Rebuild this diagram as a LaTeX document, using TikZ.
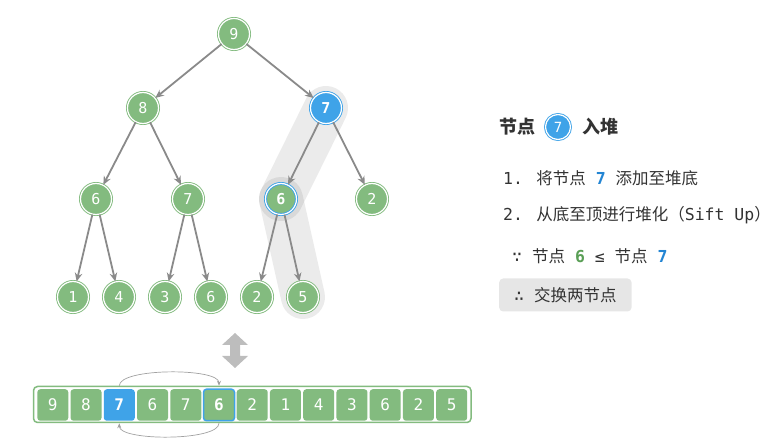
\documentclass[tikz,border=0pt]{standalone}
\usepackage{fontspec}
\setmainfont{DejaVu Sans Mono}
\newfontfamily\cjk{Noto Sans CJK SC}
\usetikzlibrary{arrows.meta}
\definecolor{hgreen}{HTML}{83BB7F}
\definecolor{hblue}{HTML}{3FA3E8}
\definecolor{tblue}{HTML}{2385D3}
\definecolor{tgreen}{HTML}{5A9F56}
\definecolor{edgegray}{HTML}{8A8A8A}
\definecolor{txt}{HTML}{333333}
\definecolor{boxgray}{HTML}{E6E6E6}
\definecolor{arrgray}{HTML}{BDBDBD}
\tikzset{
  tnode/.style={circle, minimum size=31pt, inner sep=0pt, fill=hgreen, draw=hgreen,
    double=white, double distance=1.2pt, line width=0.9pt, text=white,
    font=\fontsize{15}{15}\selectfont},
  tblue/.style={tnode, fill=hblue, draw=hblue, font=\fontsize{15}{15}\selectfont\bfseries},
  tring/.style={tnode, draw=hblue, font=\fontsize{15}{15}\selectfont\bfseries},
  edge/.style={draw=edgegray, line width=1.8pt, -{Stealth[length=8.5pt,width=7.5pt]}},
  band/.style={line width=44pt, line cap=round, draw=black, draw opacity=0.08},
  cell/.style={rectangle, rounded corners=3pt, minimum width=31pt, minimum height=31.5pt,
    inner sep=0pt, fill=hgreen, text=white, font=\fontsize{16}{16}\selectfont},
  cellblue/.style={cell, fill=hblue, font=\fontsize{16}{16}\selectfont\bfseries},
  cellring/.style={cell, draw=hblue, line width=1.5pt, font=\fontsize{16}{16}\selectfont\bfseries},
  swaparc/.style={draw=edgegray!80, line width=0.7pt, -{Stealth[length=5pt,width=4pt]}},
  txtline/.style={anchor=west, inner sep=0pt, text=txt, font=\fontsize{16.5}{16.5}\selectfont},
}
\begin{document}
\begin{tikzpicture}[x=1pt,y=-1pt]
\useasboundingbox (0,0) rectangle (774,443);
% positions
\coordinate (pr) at (234,34);
\coordinate (pl1) at (143,108);
\coordinate (pr1) at (326,108);
\coordinate (pll) at (96,199);
\coordinate (plr) at (188,199);
\coordinate (prl) at (281,199);
\coordinate (prr) at (372,199);
\coordinate (pq1) at (73,297);
\coordinate (pq2) at (119,297);
\coordinate (pq3) at (165,297);
\coordinate (pq4) at (211,297);
\coordinate (pq5) at (257,297);
\coordinate (pq6) at (303,297);
% highlight band
\draw[band] (pr1) -- (prl);
\draw[band] (prl) -- (pq6);
% tree nodes
\node[tnode] (r) at (pr) {9};
\node[tnode] (l1) at (pl1) {8};
\node[tblue] (r1) at (pr1) {7};
\node[tnode] (ll) at (pll) {6};
\node[tnode] (lr) at (plr) {7};
\node[tring] (rl) at (prl) {6};
\node[tnode] (rr) at (prr) {2};
\node[tnode] (q1) at (pq1) {1};
\node[tnode] (q2) at (pq2) {4};
\node[tnode] (q3) at (pq3) {3};
\node[tnode] (q4) at (pq4) {6};
\node[tnode] (q5) at (pq5) {2};
\node[tnode] (q6) at (pq6) {5};
% edges
\draw[edge] (r) -- (l1);
\draw[edge] (r) -- (r1);
\draw[edge] (l1) -- (ll);
\draw[edge] (l1) -- (lr);
\draw[edge] (r1) -- (rl);
\draw[edge] (r1) -- (rr);
\draw[edge] (ll) -- (q1);
\draw[edge] (ll) -- (q2);
\draw[edge] (lr) -- (q3);
\draw[edge] (lr) -- (q4);
\draw[edge] (rl) -- (q5);
\draw[edge] (rl) -- (q6);
% double arrow
\fill[arrgray] (235,333) -- (248,345) -- (240,345) -- (240,356) -- (248,356) -- (235,368)
  -- (222,356) -- (230,356) -- (230,345) -- (222,345) -- cycle;
% array
\node[draw=hgreen, line width=1.5pt, fill=white, rounded corners=4pt, minimum width=437.5pt,
  minimum height=36pt, inner sep=0pt] (arr) at (252.25,404.5) {};
\foreach \v/\s [count=\i from 0] in {9/cell,8/cell,7/cellblue,6/cell,7/cell,6/cellring,2/cell,1/cell,4/cell,3/cell,6/cell,2/cell,5/cell}
  \node[\s] (c\i) at ({52.8+33.24*\i},405) {\v};
\coordinate (a2) at (c2.north |- arr.north);
\coordinate (a5) at (c5.north |- arr.north);
\coordinate (b2) at (c2.south |- arr.south);
\coordinate (b5) at (c5.south |- arr.south);
\draw[swaparc] (a2) .. controls ([yshift=18pt]a2) and ([yshift=18pt]a5) .. (a5);
\draw[swaparc] (b5) .. controls ([yshift=-18pt]b5) and ([yshift=-18pt]b2) .. (b2);
% right text
\node[txtline, font=\fontsize{18}{18}\selectfont] (ti1) at (499,127) {\cjk\bfseries 节点};
\node[tblue, minimum size=25pt, font=\fontsize{14}{14}\selectfont] (ti7) at (558,127) {7};
\node[txtline, font=\fontsize{18}{18}\selectfont] (ti2) at (582,127) {\cjk\bfseries 入堆};
\node[txtline] (s1) at (503,178) {1. {\cjk 将节点} {\bfseries\color{tblue}7} {\cjk 添加至堆底}};
\node[txtline] (s2) at (503,215) {2. {\cjk 从底至顶进行堆化（}Sift Up{\cjk ）}};
\node[txtline] (s3) at (512,256) {∵ {\cjk 节点} {\bfseries\color{tgreen}6} ≤ {\cjk 节点} {\bfseries\color{tblue}7}};
\node[anchor=west, fill=boxgray, rounded corners=4pt, inner xsep=15pt, minimum height=33pt,
  text=txt, font=\fontsize{16.5}{16.5}\selectfont] (box) at (499,295) {∴ {\cjk 交换两节点}};
\end{tikzpicture}
\end{document}
